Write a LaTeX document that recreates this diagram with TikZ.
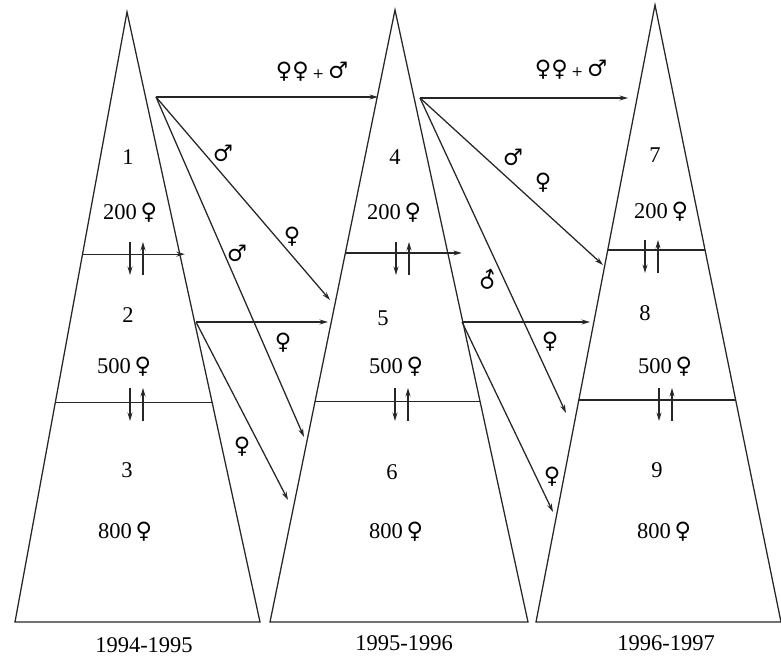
\documentclass[tikz,border=0pt]{standalone}
\usepackage{fontspec}
\setmainfont{Liberation Serif}
\newfontfamily\symfont{DejaVu Serif}
\usetikzlibrary{arrows.meta, calc}

\newcommand{\fem}{{\symfont ♀}}

\begin{document}
\begin{tikzpicture}[x=0.025cm, y=-0.025cm,
    edge/.style={draw=black!85, line width=0.9pt},
    flow/.style={edge, -{Stealth[length=6pt,width=3.5pt]}},
    lbl/.style={font=\fontsize{16}{19}\selectfont, inner sep=1pt},
    sex/.style={font=\fontsize{16}{19}\selectfont\symfont, inner sep=1pt},
]
\useasboundingbox (0,0) rectangle (781,668);

% the three pyramids (one per season)
\coordinate (ap1) at (127,12);  \coordinate (bl1) at (15,622);  \coordinate (br1) at (260,622);
\coordinate (ap2) at (395,10);  \coordinate (bl2) at (270,622); \coordinate (br2) at (528,622);
\coordinate (ap3) at (655,5);   \coordinate (bl3) at (536,622); \coordinate (br3) at (781,622);

\foreach \i in {1,2,3} {
  \draw[edge] (ap\i) -- (bl\i) -- (br\i) -- cycle;
  \coordinate (ul\i) at ($(ap\i)!0.397!(bl\i)$);
  \coordinate (ur\i) at ($(ap\i)!0.397!(br\i)$);
  \coordinate (ll\i) at ($(ap\i)!0.64!(bl\i)$);
  \coordinate (lr\i) at ($(ap\i)!0.64!(br\i)$);
  \draw[edge] (ll\i) -- (lr\i);
}
\coordinate (ux1) at ($(ur1)+(5,0)$);
\coordinate (ux2) at ($(ur2)+(14,0)$);
\draw[flow] (ul1) -- (ux1);
\draw[flow] (ul2) -- (ux2);
\draw[edge] (ul3) -- (ur3);

% exchange between age classes
\foreach \x/\y in {130/242, 396/242, 645/240, 130/388, 395/388, 659/388} {
  \draw[flow] (\x,\y) -- (\x,\y+33);
  \draw[flow] (\x+13,\y+33) -- (\x+13,\y);
}

% zones and stocks
\node[lbl] (n1) at (128,157) {1};
\node[lbl] (s1) at (130,213) {200\,\fem};
\node[lbl] (n2) at (128,315) {2};
\node[lbl] (s2) at (124,367) {500\,\fem};
\node[lbl] (n3) at (127,470) {3};
\node[lbl] (s3) at (125,532) {800\,\fem};
\node[lbl] (n4) at (395,157) {4};
\node[lbl] (s4) at (394,213) {200\,\fem};
\node[lbl] (n5) at (383,318) {5};
\node[lbl] (s5) at (396,367) {500\,\fem};
\node[lbl] (n6) at (392,472) {6};
\node[lbl] (s6) at (396,532) {800\,\fem};
\node[lbl] (n7) at (655,155) {7};
\node[lbl] (s7) at (661,212) {200\,\fem};
\node[lbl] (n8) at (645,313) {8};
\node[lbl] (s8) at (665,367) {500\,\fem};
\node[lbl] (n9) at (657,470) {9};
\node[lbl] (s9) at (664,532) {800\,\fem};

% transfers to the next season
\coordinate (z1o) at (156,97);
\coordinate (z2o) at (196,322);
\coordinate (z4o) at (420,98);
\coordinate (z5o) at (462,322);
\coordinate (to4) at (378,97);
\coordinate (to5) at (330,300);
\coordinate (to6) at (304,437);
\coordinate (to5b) at (328,322);
\coordinate (to6b) at (288,500);
\coordinate (to7) at (628,98);
\coordinate (to8) at (603,265);
\coordinate (to9) at (566,413);
\coordinate (to8b) at (590,322);
\coordinate (to9b) at (553,512);
\draw[flow] (z1o) -- (to4);
\draw[flow] (z1o) -- (to5);
\draw[flow] (z1o) -- (to6);
\draw[flow] (z2o) -- (to5b);
\draw[flow] (z2o) -- (to6b);
\draw[flow] (z4o) -- (to7);
\draw[flow] (z4o) -- (to8);
\draw[flow] (z4o) -- (to9);
\draw[flow] (z5o) -- (to8b);
\draw[flow] (z5o) -- (to9b);

\node[sex] (g1) at (312,72) {♀♀\,{\fontsize{10}{12}\selectfont+}\,♂};
\node[sex] (g2) at (571,70) {♀♀\,{\fontsize{10}{12}\selectfont+}\,♂};
\node[sex] (m1) at (223,153) {♂};
\node[sex] (f1) at (292,237) {♀};
\node[sex] (m2) at (237,253) {♂};
\node[sex] (f2) at (283,343) {♀};
\node[sex] (f3) at (242,447) {♀};
\node[sex] (m3) at (513,157) {♂};
\node[sex] (f4) at (543,183) {♀};
\node[sex, rotate=30] (m4) at (488,280) {♂};
\node[sex] (f5) at (550,342) {♀};
\node[sex] (f6) at (552,477) {♀};

% seasons
\node[lbl] (y1) at (144,645) {1994-1995};
\node[lbl] (y2) at (404,643) {1995-1996};
\node[lbl] (y3) at (666,643) {1996-1997};
\end{tikzpicture}
\end{document}
